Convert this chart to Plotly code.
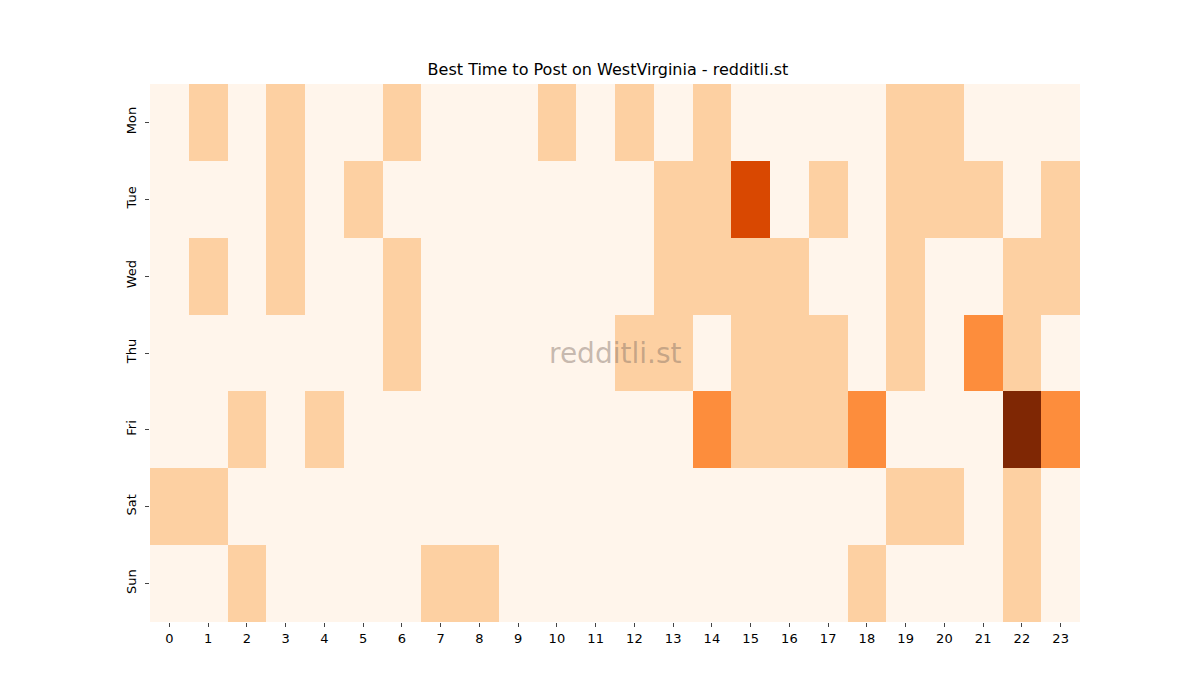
import plotly.graph_objects as go

days = ["Mon", "Tue", "Wed", "Thu", "Fri", "Sat", "Sun"]
hours = list(range(24))

mon = [0, 1, 0, 1, 0, 0, 1, 0, 0, 0, 1, 0, 1, 0, 1, 0, 0, 0, 0, 1, 1, 0, 0, 0]
tue = [0, 0, 0, 1, 0, 1, 0, 0, 0, 0, 0, 0, 0, 1, 1, 3, 0, 1, 0, 1, 1, 1, 0, 1]
wed = [0, 1, 0, 1, 0, 0, 1, 0, 0, 0, 0, 0, 0, 1, 1, 1, 1, 0, 0, 1, 0, 0, 1, 1]
thu = [0, 0, 0, 0, 0, 0, 1, 0, 0, 0, 0, 0, 1, 1, 0, 1, 1, 1, 0, 1, 0, 2, 1, 0]
fri = [0, 0, 1, 0, 1, 0, 0, 0, 0, 0, 0, 0, 0, 0, 2, 1, 1, 1, 2, 0, 0, 0, 4, 2]
sat = [1, 1, 0, 0, 0, 0, 0, 0, 0, 0, 0, 0, 0, 0, 0, 0, 0, 0, 0, 1, 1, 0, 1, 0]
sun = [0, 0, 1, 0, 0, 0, 0, 1, 1, 0, 0, 0, 0, 0, 0, 0, 0, 0, 1, 0, 0, 0, 1, 0]

# matplotlib "Oranges"
oranges = ["#fff5eb", "#fee6ce", "#fdd0a2", "#fdae6b", "#fd8d3c",
           "#f16913", "#d94801", "#a63603", "#7f2704"]
scale = [[i / 8, c] for i, c in enumerate(oranges)]

fig = go.Figure(go.Heatmap(
    z=[mon, tue, wed, thu, fri, sat, sun],
    x=hours,
    y=days,
    colorscale=scale,
    zmin=0,
    zmax=4,
    showscale=False,
    xgap=0,
    ygap=0,
))

fig.update_layout(
    width=1200,
    height=700,
    margin=dict(l=142, r=128, t=76, b=86),
    paper_bgcolor="white",
    plot_bgcolor="white",
    font=dict(family="DejaVu Sans", size=13, color="black"),
    title=dict(text="Best Time to Post on WestVirginia - redditli.st",
               x=0.5, xanchor="center", y=0.904, yanchor="bottom",
               font=dict(size=16)),
    xaxis=dict(tickmode="array", tickvals=hours, ticks="outside",
               ticklen=4, showgrid=False, zeroline=False, showline=False),
    yaxis=dict(autorange="reversed", ticks="outside", ticklen=4,
               tickangle=-90, ticklabelstandoff=4,
               showgrid=False, zeroline=False, showline=False),
    annotations=[dict(text="redditli.st", x=0.5, y=0.5, xref="paper",
                      yref="paper", showarrow=False,
                      font=dict(size=28, color="rgba(128,110,100,0.45)"))],
)

fig.write_html("out.html")
